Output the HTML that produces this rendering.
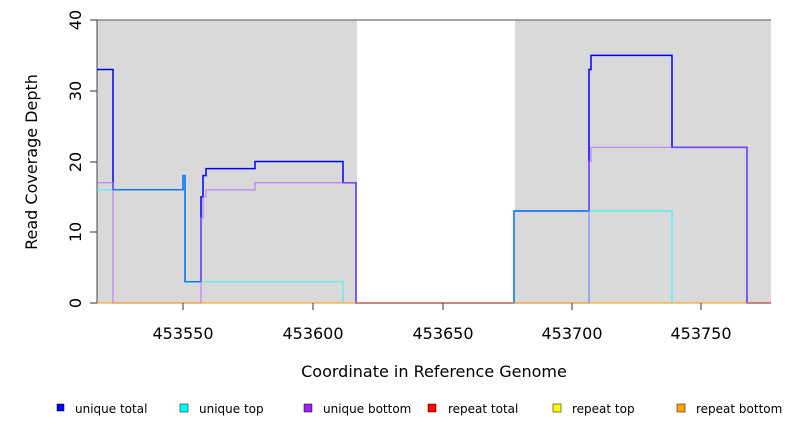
<!DOCTYPE html><html><head><style>body{margin:0;background:#fff}svg{font-family:"DejaVu Sans","Liberation Sans",sans-serif}</style></head><body>
<svg width="792" height="432" xmlns="http://www.w3.org/2000/svg">
<rect x="97" y="20" width="260" height="283" fill="#d9d9d9"/>
<rect x="515" y="20" width="256" height="283" fill="#d9d9d9"/>
<line x1="97" y1="20" x2="771" y2="20" stroke="#888" stroke-width="1.5"/>
<line x1="97" y1="20" x2="97" y2="303" stroke="#444" stroke-width="1"/>
<g fill="none" stroke-width="1.3">
<polyline stroke="#0000ff" stroke-width="1.5" points="97,69.5 113,69.5 113,189.8 183,189.8 183,175.6 185,175.6 185,281.8 201,281.8 201,196.9 203,196.9 203,175.6 206,175.6 206,168.6 255,168.6 255,161.5 343,161.5 343,182.7 356,182.7 356,303 514,303 514,211 589,211 589,69.5 591,69.5 591,55.4 672,55.4 672,147.4 747,147.4 747,303 771,303"/>
<polyline stroke="#00ffff" stroke-opacity="0.55" points="97,189.8 183,189.8 183,175.6 185,175.6 185,281.8 343,281.8 343,303"/>
<polyline stroke="#00ffff" stroke-opacity="0.55" points="514,303 514,211 589,211"/>
<polyline stroke="#00ffff" stroke-opacity="0.75" points="589,303 589,211 672,211 672,303"/>
<polyline stroke="#b366ff" stroke-opacity="0.7" points="97,182.7 113,182.7 113,303 201,303 201,218 203,218 203,196.9 206,196.9 206,189.8 255,189.8 255,182.7 356,182.7 356,303 589,303 589,161.5 591,161.5 591,147.4 747,147.4 747,303 771,303"/>
<line x1="97" y1="303" x2="771" y2="303" stroke="#ff9900" stroke-width="1"/>
</g>
<g stroke="#333"><line x1="90" y1="20" x2="97" y2="20"/><line x1="90" y1="91" x2="97" y2="91"/><line x1="90" y1="162" x2="97" y2="162"/><line x1="90" y1="232" x2="97" y2="232"/><line x1="90" y1="303" x2="97" y2="303"/>
<line x1="183" y1="303" x2="183" y2="310"/><line x1="313" y1="303" x2="313" y2="310"/><line x1="443" y1="303" x2="443" y2="310"/><line x1="572" y1="303" x2="572" y2="310"/><line x1="701" y1="303" x2="701" y2="310"/></g>
<g font-size="16" fill="#000" text-anchor="middle">
<text transform="translate(75,20) rotate(-90)" dy="6">40</text>
<text transform="translate(75,91) rotate(-90)" dy="6">30</text>
<text transform="translate(75,162) rotate(-90)" dy="6">20</text>
<text transform="translate(75,232) rotate(-90)" dy="6">10</text>
<text transform="translate(75,303) rotate(-90)" dy="6">0</text>
<text x="183" y="339">453550</text><text x="313" y="339">453600</text><text x="443" y="339">453650</text><text x="572" y="339">453700</text><text x="701" y="339">453750</text>
<text x="434" y="377">Coordinate in Reference Genome</text>
<text transform="translate(37,162) rotate(-90)">Read Coverage Depth</text>
</g>
<g font-size="12" fill="#000">
<rect x="57" y="404" width="7" height="7" fill="#0000ff" stroke="#000" stroke-width=".5"/><text x="75" y="413">unique total</text>
<rect x="180" y="404" width="8" height="8" fill="#00ffff" stroke="#000" stroke-width=".5"/><text x="199" y="413">unique top</text>
<rect x="304" y="404" width="8" height="8" fill="#a020f0" stroke="#000" stroke-width=".5"/><text x="323" y="413">unique bottom</text>
<rect x="428" y="404" width="8" height="8" fill="#ff0000" stroke="#000" stroke-width=".5"/><text x="448" y="413">repeat total</text>
<rect x="553" y="404" width="8" height="8" fill="#ffff00" stroke="#000" stroke-width=".5"/><text x="572" y="413">repeat top</text>
<rect x="677" y="404" width="8" height="8" fill="#ffa500" stroke="#000" stroke-width=".5"/><text x="696" y="413">repeat bottom</text>
</g>
</svg></body></html>
